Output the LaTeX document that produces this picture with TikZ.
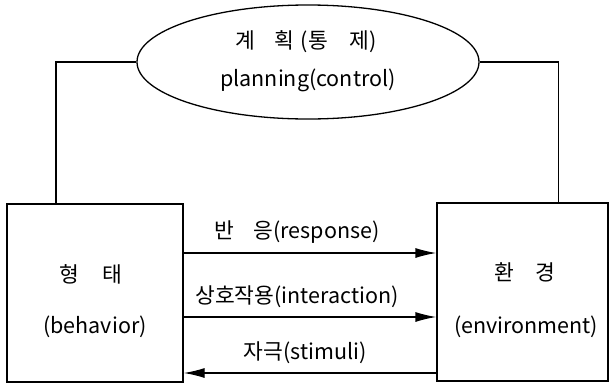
\documentclass[tikz,border=0pt]{standalone}
\usepackage{fontspec}
\setmainfont{Noto Sans CJK KR}
\usetikzlibrary{arrows.meta,shapes.geometric,calc}
\begin{document}
\begin{tikzpicture}[x=1pt,y=-1pt,
  line width=1.3pt,
  lbl/.style={font=\fontsize{21.5}{25}\selectfont, inner sep=0pt},
  box/.style={draw, rectangle, inner sep=0pt},
  arr/.style={-{Latex[length=21pt,width=10pt]}}]
\useasboundingbox (0,0) rectangle (609,383);
\node[draw, ellipse, minimum width=342pt, minimum height=114pt, inner sep=0pt] (plan) at (308,62) {};
\node[lbl] (plank) at (306,42) {계\hspace{0.9em}획\hspace{0.3em}(통\hspace{1em}제)};
\node[lbl] (plane) at (308,80) {planning(control)};
\node[box, minimum width=176pt, minimum height=178pt] (beh) at (95,293) {};
\node[box, minimum width=171pt, minimum height=178pt] (env) at (522.5,292) {};
\node[lbl] (behk) at (91,274) {형\hspace{1.1em}태};
\node[lbl] (behe) at (95,327) {(behavior)};
\node[lbl] (envk) at (525,272) {환\hspace{1em}경};
\node[lbl] (enve) at (526,327) {(environment)};
\path (beh.north west) ++(49.5,0) coordinate (lc);
\path (env.north west) ++(122,0) coordinate (rc);
\draw (lc) |- (plan.west);
\draw (rc) |- (plan.east);
\coordinate (y1) at (0,253);
\coordinate (y2) at (0,317);
\coordinate (y3) at (0,373);
\draw[arr] (beh.east |- y1) -- (env.west |- y1);
\draw[arr] (beh.east |- y2) -- (env.west |- y2);
\draw[arr] (env.west |- y3) -- (beh.east |- y3);
\node[lbl] (l1) at (297,232) {반\hspace{0.9em}응(response)};
\node[lbl] (l2) at (297,297) {상호작용(interaction)};
\node[lbl] (l3) at (305,353) {자극(stimuli)};
\end{tikzpicture}
\end{document}
